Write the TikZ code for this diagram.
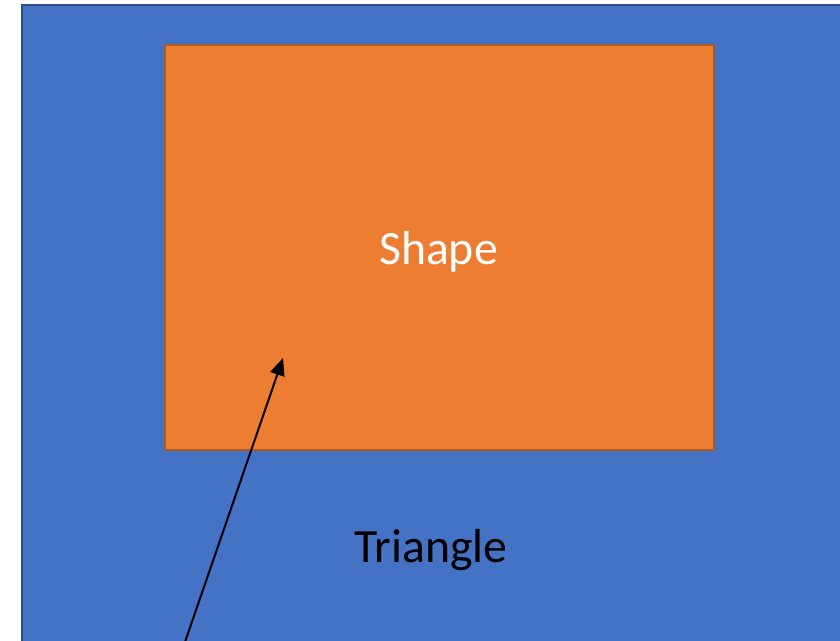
\documentclass[tikz,border=0pt]{standalone}
\usepackage{fontspec}
\setmainfont{Carlito}
\usetikzlibrary{arrows.meta}
\definecolor{bluefill}{HTML}{4472C4}
\definecolor{blueline}{HTML}{2F528F}
\definecolor{orangefill}{HTML}{ED7D31}
\definecolor{orangeline}{HTML}{AE5A21}
\tikzset{
  outerbox/.style={fill=bluefill,draw=blueline,line width=1.5pt},
  innerbox/.style={fill=orangefill,draw=orangeline,line width=2pt},
  lbl/.style={font=\fontsize{35.8}{42}\selectfont,inner sep=0pt},
  pointer/.style={line width=1.5pt,-{Triangle[length=13pt,width=11pt]}}
}
\begin{document}
\begin{tikzpicture}[x=0.75pt,y=-0.75pt]
\useasboundingbox (0,0) rectangle (840,640);
\begin{scope}
\clip (0,0) rectangle (840,640);
\draw[outerbox] (22,5) rectangle (860,660);
\end{scope}
\draw[innerbox] (165,45) rectangle (714,450);
\node[lbl,text=white] (shape) at (438.5,252) {Shape};
\node[lbl,text=black] (tri) at (431,550) {Triangle};
\coordinate (start) at (185,642);
\coordinate (tip) at (283,358);
\draw[pointer] (start) -- (tip);
\end{tikzpicture}
\end{document}
